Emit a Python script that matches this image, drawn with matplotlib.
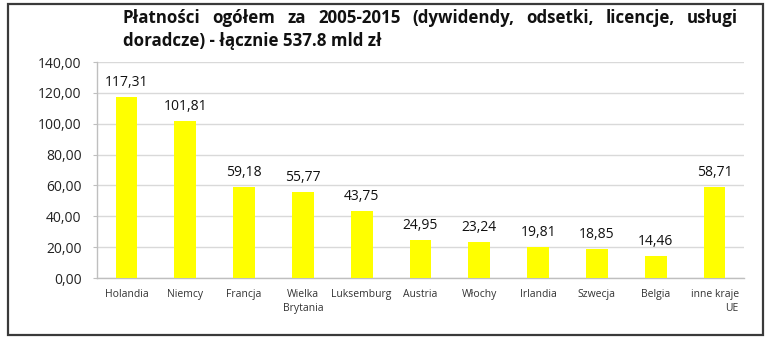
import matplotlib
matplotlib.use("Agg")
import matplotlib.pyplot as plt
from matplotlib import font_manager
from matplotlib.patches import Rectangle

# Data
countries = ["Holandia", "Niemcy", "Francja", "Wielka\nBrytania", "Luksemburg",
             "Austria", "Włochy", "Irlandia", "Szwecja", "Belgia", "inne kraje\nUE"]
payments = [117.31, 101.81, 59.18, 55.77, 43.75, 24.95, 23.24, 19.81, 18.85, 14.46, 58.71]
y_ticks = [0, 20, 40, 60, 80, 100, 120, 140]

title_line1 = ["Płatności", "ogółem", "za", "2005-2015", "(dywidendy,",
               "odsetki,", "licencje,", "usługi"]
title_line2 = "doradcze) - łącznie 537.8 mld zł"

available = {f.name for f in font_manager.fontManager.ttflist}
title_font = "Liberation Sans Narrow" if "Liberation Sans Narrow" in available else "Open Sans"
body_font = "Open Sans"

W, H, DPI = 780, 345, 100
fig = plt.figure(figsize=(W / DPI, H / DPI), dpi=DPI)
fig.patch.set_facecolor("white")

# Outer frame
fig.patches.append(Rectangle((8 / W, 1 - 335 / H), (763 - 8) / W, (335 - 4) / H,
                             transform=fig.transFigure, fill=False,
                             edgecolor="#3a3a3a", linewidth=1.6))

ax = fig.add_axes([97 / W, 1 - 278 / H, (744 - 97) / W, (278 - 62) / H])
x = range(len(countries))
ax.bar(x, payments, width=0.37, color="#FFFF00", zorder=3)
ax.set_xlim(-0.5, len(countries) - 0.5)
ax.set_ylim(0, 140)
ax.set_yticks(y_ticks)
ax.set_yticklabels([f"{v:.2f}".replace(".", ",") for v in y_ticks],
                   fontfamily=body_font, fontsize=10, color="#222222")
ax.set_xticks(list(x))
ax.set_xticklabels(countries, fontfamily=body_font, fontsize=7.5, color="#333333",
                   linespacing=1.35)
for lbl in ax.get_xticklabels():
    lbl.set_multialignment("right" if "UE" in lbl.get_text() else "center")
ax.tick_params(axis="x", length=0, pad=8)
ax.tick_params(axis="y", length=3, color="#bfbfbf", pad=8)
ax.grid(axis="y", color="#d9d9d9", linewidth=1.0, zorder=0)
for side in ["top", "right"]:
    ax.spines[side].set_visible(False)
for side in ["left", "bottom"]:
    ax.spines[side].set_color("#bfbfbf")
    ax.spines[side].set_linewidth(1.0)

for xi, v in zip(x, payments):
    ax.annotate(f"{v:.2f}".replace(".", ","), (xi, v), xytext=(0, 5),
                textcoords="offset points", ha="center", va="bottom",
                fontfamily=body_font, fontsize=10, color="#111111")

# Justified two-line title
fig.canvas.draw()
renderer = fig.canvas.get_renderer()
tkw = dict(fontfamily=title_font, fontsize=12.2, fontweight="bold", color="#111111",
           va="baseline", ha="left", transform=fig.transFigure)
x_left, x_right = 123, 738
words = [fig.text(0, 1 - 23 / H, w, **tkw) for w in title_line1]
widths = [t.get_window_extent(renderer).width for t in words]
gap = (x_right - x_left - sum(widths)) / (len(words) - 1)
pos = x_left
for t, wd in zip(words, widths):
    t.set_x(pos / W)
    pos += wd + gap
fig.text(x_left / W, 1 - 46 / H, title_line2, **tkw)

fig.savefig("out.png", dpi=DPI)
